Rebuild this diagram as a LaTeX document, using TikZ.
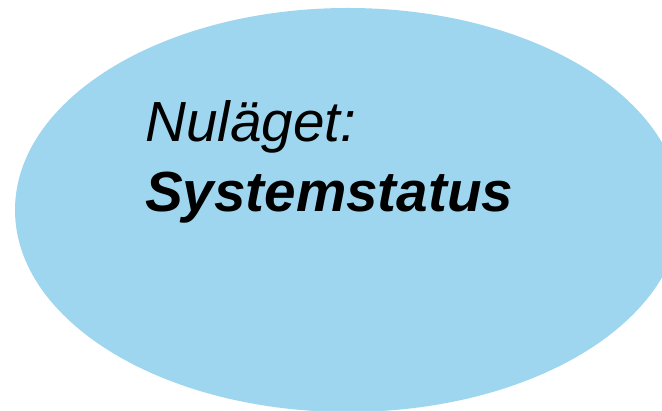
\documentclass[tikz,border=0pt]{standalone}
\usepackage{fontspec}
\setmainfont{Liberation Sans}
\definecolor{ellblue}{RGB}{159,214,239}
\begin{document}
\begin{tikzpicture}[x=1pt,y=1pt,
  lbl/.style={anchor=base west,inner sep=0pt}]
\useasboundingbox (0,0) rectangle (662,411);
\clip (0,0) rectangle (662,411);
\fill[ellblue] (348,201) ellipse [x radius=333, y radius=202];
\node[lbl,font=\fontsize{56.6}{68}\selectfont\itshape] (l1) at (145,269) {Nuläget:};
\node[lbl,font=\fontsize{56.6}{68}\selectfont\bfseries\itshape] (l2) at (145,199) {Systemstatus};
\end{tikzpicture}
\end{document}
